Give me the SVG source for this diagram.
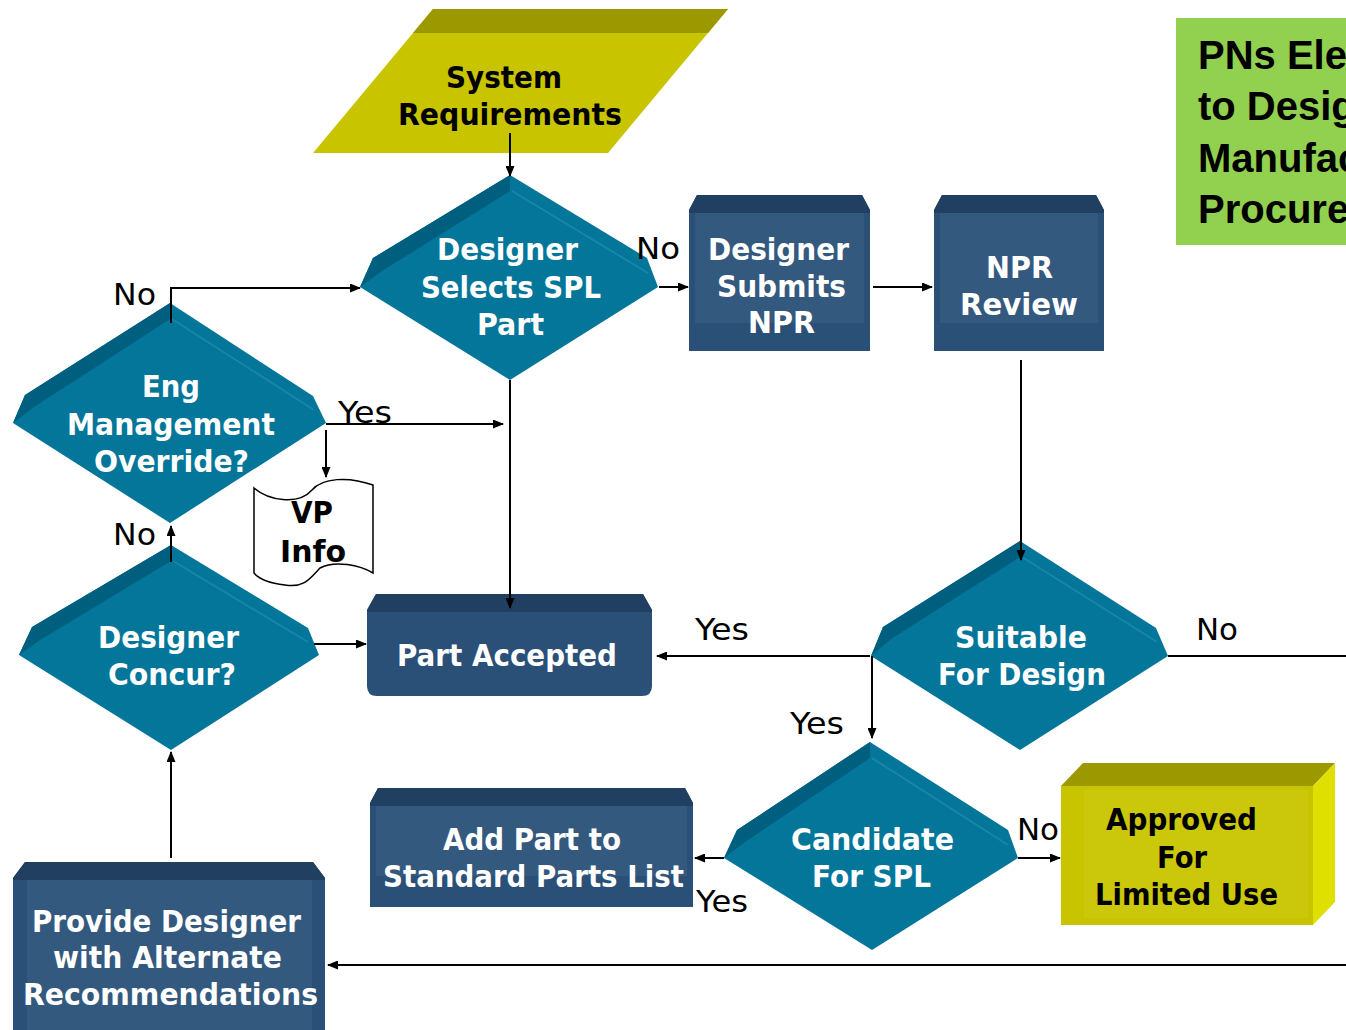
<svg xmlns="http://www.w3.org/2000/svg" width="1346" height="1030" viewBox="0 0 1346 1030">
<defs>
<marker id="ah" markerWidth="11" markerHeight="9" refX="10" refY="4.5" orient="auto" markerUnits="userSpaceOnUse">
<path d="M0,0 L11,4.5 L0,9 Z" fill="#000"/>
</marker>
<style>
.ln{fill:none;stroke:#000;stroke-width:2}
.arr{fill:none;stroke:#000;stroke-width:2;marker-end:url(#ah)}
.dia{fill:#03769a}
.bev{fill:#005e7e}
.hl{fill:none;stroke:#2a90b4;stroke-width:2;opacity:.6}
.bx{fill:#2b5078}
.band{fill:#213f60}
.inr{fill:#34597f}
.wt{font-family:"DejaVu Sans",Verdana,sans-serif;font-weight:bold;font-size:30px;fill:#fff}
.bt{font-family:"DejaVu Sans",Verdana,sans-serif;font-weight:bold;font-size:30px;fill:#000}
.lb{font-family:"DejaVu Sans",Verdana,sans-serif;font-size:30px;fill:#000}
.gt{font-family:"Liberation Sans",Arial,sans-serif;font-weight:bold;font-size:40px;fill:#000}
</style>
</defs>

<g id="system-requirements">
<polygon points="433,9 728,9 608,153 313,153" fill="#c8c400"/>
<polygon points="433,9 728,9 708,33 413,33" fill="#9c9800"/>
<text class="bt" x="446" y="88" textLength="116" lengthAdjust="spacingAndGlyphs">System</text>
<text class="bt" x="398" y="125" textLength="224" lengthAdjust="spacingAndGlyphs">Requirements</text>
</g>

<g id="designer-selects">
<polygon class="dia" points="510,175 647,258 658,287 510,380 360,287 373,258"/>
<polygon class="bev" points="360,287 373,258 510,175 510,191 382,271"/>
<path class="hl" d="M512,191 L648,273"/>
<text class="wt" x="437" y="260" textLength="141" lengthAdjust="spacingAndGlyphs">Designer</text>
<text class="wt" x="421" y="298" textLength="180" lengthAdjust="spacingAndGlyphs">Selects SPL</text>
<text class="wt" x="477" y="335" textLength="67" lengthAdjust="spacingAndGlyphs">Part</text>
</g>

<g id="designer-submits">
<path class="bx" d="M689,351 V210 L697,195 H862 L870,210 V351 Z"/>
<path class="band" d="M689,213 V210 L697,195 H862 L870,210 V213 Z"/>
<rect class="inr" x="695" y="213" width="169" height="110"/>
<text class="wt" x="708" y="260" textLength="141" lengthAdjust="spacingAndGlyphs">Designer</text>
<text class="wt" x="717" y="297" textLength="129" lengthAdjust="spacingAndGlyphs">Submits</text>
<text class="wt" x="748" y="333" textLength="67" lengthAdjust="spacingAndGlyphs">NPR</text>
</g>

<g id="npr-review">
<path class="bx" d="M934,351 V210 L942,195 H1096 L1104,210 V351 Z"/>
<path class="band" d="M934,213 V210 L942,195 H1096 L1104,210 V213 Z"/>
<rect class="inr" x="940" y="213" width="158" height="110"/>
<text class="wt" x="986" y="278" textLength="67" lengthAdjust="spacingAndGlyphs">NPR</text>
<text class="wt" x="960" y="315" textLength="118" lengthAdjust="spacingAndGlyphs">Review</text>
</g>

<g id="pns-box">
<rect x="1176" y="18" width="175" height="227" fill="#92d050"/>
<text class="gt" x="1198" y="69">PNs Ele</text>
<text class="gt" x="1198" y="120">to Desig</text>
<text class="gt" x="1198" y="172">Manufac</text>
<text class="gt" x="1198" y="223">Procure</text>
</g>

<g id="eng-override">
<polygon class="dia" points="170,303 313,396 326,423 170,523 13,423 25,395"/>
<polygon class="bev" points="13,423 25,395 170,303 170,319 34,407"/>
<path class="hl" d="M172,319 L314,410"/>
<text class="wt" x="142" y="397" textLength="58" lengthAdjust="spacingAndGlyphs">Eng</text>
<text class="wt" x="67" y="435" textLength="208" lengthAdjust="spacingAndGlyphs">Management</text>
<text class="wt" x="94" y="472" textLength="155" lengthAdjust="spacingAndGlyphs">Override?</text>
</g>

<g id="vp-info">
<path d="M254,488 C268,500 298,506 312,490 C322,478 348,476 373,485 L373,573 C360,565 335,560 320,568 C310,578 305,588 285,585 C268,583 258,578 254,573 Z" fill="#fff" stroke="#000" stroke-width="1.5"/>
<text class="bt" x="291" y="523" textLength="42" lengthAdjust="spacingAndGlyphs">VP</text>
<text class="bt" x="280" y="562" textLength="66" lengthAdjust="spacingAndGlyphs">Info</text>
</g>

<g id="designer-concur">
<polygon class="dia" points="171,545 308,628 319,655 171,750 19,655 32,627"/>
<polygon class="bev" points="19,655 32,627 171,545 171,561 40,640"/>
<path class="hl" d="M173,561 L308,642"/>
<text class="wt" x="98" y="648" textLength="141" lengthAdjust="spacingAndGlyphs">Designer</text>
<text class="wt" x="108" y="685" textLength="128" lengthAdjust="spacingAndGlyphs">Concur?</text>
</g>

<g id="part-accepted">
<path class="bx" d="M367,686 V610 L376,594 H643 L652,610 V686 Q652,696 642,696 H377 Q367,696 367,686 Z"/>
<path class="band" d="M367,612 V610 L376,594 H643 L652,610 V612 Z"/>
<text class="wt" x="397" y="666" textLength="220" lengthAdjust="spacingAndGlyphs">Part Accepted</text>
</g>

<g id="suitable">
<polygon class="dia" points="1020,541 1156,628 1168,656 1020,750 871,656 883,627"/>
<polygon class="bev" points="871,656 883,627 1020,541 1020,557 891,639"/>
<path class="hl" d="M1022,557 L1157,642"/>
<text class="wt" x="955" y="648" textLength="132" lengthAdjust="spacingAndGlyphs">Suitable</text>
<text class="wt" x="938" y="685" textLength="168" lengthAdjust="spacingAndGlyphs">For Design</text>
</g>

<g id="candidate">
<polygon class="dia" points="870,742 1008,830 1018,858 872,950 724,858 737,830"/>
<polygon class="bev" points="724,858 737,830 870,742 870,758 745,842"/>
<path class="hl" d="M872,758 L1008,845"/>
<text class="wt" x="791" y="850" textLength="163" lengthAdjust="spacingAndGlyphs">Candidate</text>
<text class="wt" x="812" y="887" textLength="119" lengthAdjust="spacingAndGlyphs">For SPL</text>
</g>

<g id="add-part">
<path class="bx" d="M370,907 V803 L378,788 H685 L693,803 V907 Z"/>
<path class="band" d="M370,806 V803 L378,788 H685 L693,803 V806 Z"/>
<rect class="inr" x="376" y="806" width="311" height="70"/>
<text class="wt" x="443" y="850" textLength="178" lengthAdjust="spacingAndGlyphs">Add Part to</text>
<text class="wt" x="383" y="887" textLength="301" lengthAdjust="spacingAndGlyphs">Standard Parts List</text>
</g>

<g id="approved">
<polygon points="1061,786 1083,763 1335,763 1313,786" fill="#9c9800"/>
<polygon points="1313,786 1335,763 1335,902 1313,925" fill="#e0e000"/>
<rect x="1061" y="786" width="252" height="139" fill="#c8c400"/>
<rect x="1084" y="790" width="224" height="128" fill="#cbc70a"/>
<text class="bt" x="1106" y="830" textLength="151" lengthAdjust="spacingAndGlyphs">Approved</text>
<text class="bt" x="1157" y="868" textLength="50" lengthAdjust="spacingAndGlyphs">For</text>
<text class="bt" x="1095" y="905" textLength="183" lengthAdjust="spacingAndGlyphs">Limited Use</text>
</g>

<g id="provide-designer">
<path class="bx" d="M13,1035 V878 L25,862 H313 L325,878 V1035 Z"/>
<path class="band" d="M13,880 V878 L25,862 H313 L325,878 V880 Z"/>
<rect class="inr" x="27" y="880" width="285" height="155"/>
<text class="wt" x="32" y="932" textLength="269" lengthAdjust="spacingAndGlyphs">Provide Designer</text>
<text class="wt" x="53" y="968" textLength="229" lengthAdjust="spacingAndGlyphs">with Alternate</text>
<text class="wt" x="23" y="1005" textLength="295" lengthAdjust="spacingAndGlyphs">Recommendations</text>
</g>

<g id="connectors">
<path class="arr" d="M510,133 V176"/>
<path class="arr" d="M659,287 H688"/>
<path class="arr" d="M873,287 H932"/>
<path class="arr" d="M1021,360 V560"/>
<path class="arr" d="M171,323 V288 H360"/>
<path class="arr" d="M326,424 H503"/>
<path class="arr" d="M326,430 V477"/>
<path class="arr" d="M510,380 V608"/>
<path class="arr" d="M171,562 V526"/>
<path class="arr" d="M314,644 H366"/>
<path class="arr" d="M171,858 V752"/>
<path class="arr" d="M1346,965 H328"/>
<path class="arr" d="M870,656 H657"/>
<path class="arr" d="M872,656 V738"/>
<path class="ln" d="M1168,656 H1346"/>
<path class="arr" d="M1018,858 H1060"/>
<path class="arr" d="M724,858 H695"/>
</g>

<g id="labels">
<text class="lb" x="636" y="259" textLength="44" lengthAdjust="spacingAndGlyphs">No</text>
<text class="lb" x="113" y="305" textLength="43" lengthAdjust="spacingAndGlyphs">No</text>
<text class="lb" x="338" y="423" textLength="54" lengthAdjust="spacingAndGlyphs">Yes</text>
<text class="lb" x="113" y="545" textLength="43" lengthAdjust="spacingAndGlyphs">No</text>
<text class="lb" x="695" y="640" textLength="54" lengthAdjust="spacingAndGlyphs">Yes</text>
<text class="lb" x="1196" y="640" textLength="42" lengthAdjust="spacingAndGlyphs">No</text>
<text class="lb" x="790" y="734" textLength="54" lengthAdjust="spacingAndGlyphs">Yes</text>
<text class="lb" x="1017" y="840" textLength="42" lengthAdjust="spacingAndGlyphs">No</text>
<text class="lb" x="696" y="912" textLength="52" lengthAdjust="spacingAndGlyphs">Yes</text>
</g>
</svg>
